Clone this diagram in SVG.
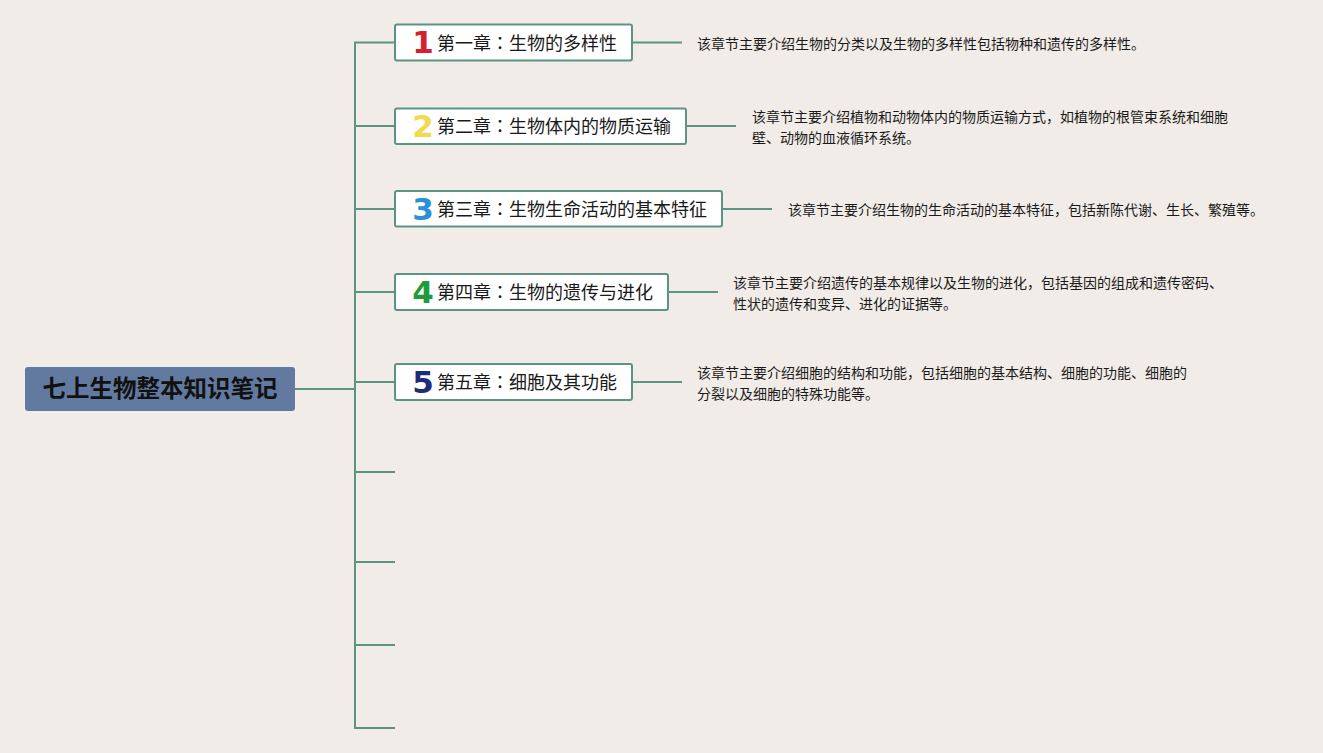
<svg xmlns="http://www.w3.org/2000/svg" width="1323" height="753" viewBox="0 0 1323 753">
<style>
.ln{stroke:#5c9484;stroke-width:2;fill:none}
.box{fill:#ffffff;stroke:#5c9484;stroke-width:2}
.t{font-family:"Noto Sans CJK SC","Noto Sans",sans-serif;font-size:18px;fill:#1a1a1a}
.c{font-family:"Noto Sans CJK TC",sans-serif}
.d{font-family:"Noto Sans CJK SC","Noto Sans",sans-serif;font-size:14px;fill:#1a1a1a}
.n{font-family:"DejaVu Sans","Liberation Sans",sans-serif;font-size:31px;font-weight:bold;text-anchor:middle}
</style>
<rect width="1323" height="753" fill="#f1ece7"/>
<g id="connectors">
<line class="ln" x1="295" y1="389" x2="355" y2="389"/>
<line class="ln" x1="355" y1="42" x2="355" y2="729"/>
<line class="ln" x1="354" y1="42.5" x2="395" y2="42.5"/>
<line class="ln" x1="354" y1="126" x2="395" y2="126"/>
<line class="ln" x1="354" y1="209" x2="395" y2="209"/>
<line class="ln" x1="354" y1="292" x2="395" y2="292"/>
<line class="ln" x1="354" y1="382" x2="395" y2="382"/>
<line class="ln" x1="354" y1="472" x2="395" y2="472"/>
<line class="ln" x1="354" y1="562" x2="395" y2="562"/>
<line class="ln" x1="354" y1="645" x2="395" y2="645"/>
<line class="ln" x1="354" y1="728" x2="395" y2="728"/>
<line class="ln" x1="632" y1="42.5" x2="682" y2="42.5"/>
<line class="ln" x1="686" y1="126" x2="736" y2="126"/>
<line class="ln" x1="722" y1="209" x2="772" y2="209"/>
<line class="ln" x1="668" y1="292" x2="718" y2="292"/>
<line class="ln" x1="632" y1="382" x2="682" y2="382"/>
</g>
<g id="root">
<rect x="25" y="367" width="270" height="44" rx="3" fill="#627aa0"/>
<text x="160" y="397" text-anchor="middle" style="font-family:'Noto Sans CJK SC',sans-serif;font-size:23.5px;font-weight:bold;fill:#111">七上生物整本知识笔记</text>
</g>
<g id="node1">
<rect class="box" x="395" y="24.5" width="237" height="36" rx="2"/>
<text class="n" x="423" y="53" fill="#d4202f">1</text>
<text class="t" x="437" y="49.5">第一章<tspan class="c">：</tspan>生物的多样性</text>
</g>
<g id="node2">
<rect class="box" x="395" y="108.5" width="291" height="35.5" rx="2"/>
<text class="n" x="423" y="137" fill="#f2d94e">2</text>
<text class="t" x="437" y="133">第二章<tspan class="c">：</tspan>生物体内的物质运输</text>
</g>
<g id="node3">
<rect class="box" x="395" y="191" width="327" height="35.5" rx="2"/>
<text class="n" x="423" y="220" fill="#2a90d9">3</text>
<text class="t" x="437" y="216">第三章<tspan class="c">：</tspan>生物生命活动的基本特征</text>
</g>
<g id="node4">
<rect class="box" x="395" y="274" width="273" height="36" rx="2"/>
<text class="n" x="423" y="303" fill="#1f9b3b">4</text>
<text class="t" x="437" y="299">第四章<tspan class="c">：</tspan>生物的遗传与进化</text>
</g>
<g id="node5">
<rect class="box" x="395" y="364" width="237" height="36" rx="2"/>
<text class="n" x="423" y="393" fill="#1e2b7a">5</text>
<text class="t" x="437" y="389">第五章<tspan class="c">：</tspan>细胞及其功能</text>
</g>
<g id="desc1"><text class="d" x="697" y="49">该章节主要介绍生物的分类以及生物的多样性包括物种和遗传的多样性。</text></g>
<g id="desc2">
<text class="d" x="752" y="122">该章节主要介绍植物和动物体内的物质运输方式，如植物的根管束系统和细胞</text>
<text class="d" x="752" y="143">壁、动物的血液循环系统。</text>
</g>
<g id="desc3"><text class="d" x="788" y="215">该章节主要介绍生物的生命活动的基本特征，包括新陈代谢、生长、繁殖等。</text></g>
<g id="desc4">
<text class="d" x="733" y="288">该章节主要介绍遗传的基本规律以及生物的进化，包括基因的组成和遗传密码、</text>
<text class="d" x="733" y="309">性状的遗传和变异、进化的证据等。</text>
</g>
<g id="desc5">
<text class="d" x="697" y="378">该章节主要介绍细胞的结构和功能，包括细胞的基本结构、细胞的功能、细胞的</text>
<text class="d" x="697" y="399">分裂以及细胞的特殊功能等。</text>
</g>
</svg>
